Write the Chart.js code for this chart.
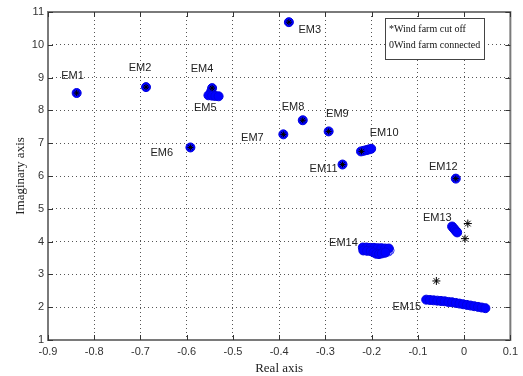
<!DOCTYPE html>
<html lang="en">
<head>
<meta charset="UTF-8">
<title>Eigenvalues - wind farm cut off vs connected</title>
<script src="https://cdn.jsdelivr.net/npm/chart.js"></script>
<style>
    html, body { margin: 0; padding: 0; background: #fff; }
    #wrap { position: relative; width: 523px; height: 376px; }
</style>
</head>
<body>
<div id="wrap"><canvas id="eigChart"></canvas></div>
<script>
// eigenvalues (real part, imaginary part)
const cutOffRe = [-0.838, -0.688, -0.379, -0.545, -0.592, -0.391, -0.349, -0.293, -0.222, -0.263, -0.018, 0.008, 0.002, -0.060];
const cutOffIm = [8.53, 8.71, 10.69, 8.68, 6.87, 7.27, 7.70, 7.36, 6.75, 6.35, 5.92, 4.55, 4.09, 2.80];

const connectedRe = [
    -0.838, -0.688, -0.379, -0.545, -0.592, -0.391, -0.349, -0.293, -0.263, -0.018,   // single modes
    -0.547, -0.549, -0.553, -0.545, -0.538, -0.531,                                   // EM5
    -0.223, -0.217, -0.211, -0.206, -0.201,                                           // EM10
    -0.026, -0.023, -0.020, -0.017, -0.015,                                           // EM13
    -0.219, -0.211, -0.203, -0.195, -0.187, -0.179, -0.171, -0.163,                   // EM14 upper
    -0.218, -0.210, -0.202, -0.196, -0.190, -0.184, -0.178, -0.170,                   // EM14 lower
    -0.082, -0.074, -0.066, -0.058, -0.050, -0.042, -0.034, -0.026, -0.018,           // EM15
    -0.010, -0.002, 0.006, 0.014, 0.022, 0.030, 0.038, 0.046
];
const connectedIm = [
    8.53, 8.71, 10.69, 8.68, 6.87, 7.27, 7.70, 7.36, 6.35, 5.92,
    8.58, 8.50, 8.46, 8.45, 8.44, 8.43,
    6.75, 6.77, 6.79, 6.81, 6.83,
    4.46, 4.41, 4.36, 4.31, 4.28,
    3.82, 3.82, 3.81, 3.81, 3.80, 3.80, 3.79, 3.79,
    3.73, 3.72, 3.71, 3.67, 3.63, 3.62, 3.64, 3.67,
    2.23, 2.22, 2.21, 2.20, 2.19, 2.18, 2.16, 2.15, 2.13,
    2.11, 2.09, 2.07, 2.05, 2.03, 2.01, 1.99, 1.97
];
// a few open circles at the right edge of EM14
const openRe = [-0.172, -0.164, -0.160];
const openIm = [3.64, 3.68, 3.73];

// mode labels and where they sit (data units)
const modeNames = ['EM1', 'EM2', 'EM3', 'EM4', 'EM5', 'EM6', 'EM7', 'EM8', 'EM9', 'EM10', 'EM11', 'EM12', 'EM13', 'EM14', 'EM15'];
const modeLabelRe = [-0.847, -0.701, -0.334, -0.567, -0.560, -0.654, -0.458, -0.370, -0.274, -0.173, -0.304, -0.045, -0.058, -0.261, -0.124];
const modeLabelIm = [9.05, 9.29, 10.45, 9.26, 8.06, 6.69, 7.15, 8.09, 7.88, 7.30, 6.20, 6.29, 4.73, 3.97, 2.01];

const toPts = (re, im) => re.map((x, i) => ({ x: x, y: im[i] }));

const frameColor = '#7a7a7a';

const overlay = {
    id: 'overlay',
    afterDraw(chart) {
        const { ctx, chartArea: a, scales: { x, y } } = chart;
        ctx.save();
        // box around the axes
        ctx.strokeStyle = frameColor;
        ctx.lineWidth = 2;
        ctx.strokeRect(a.left, a.top, a.right - a.left, a.bottom - a.top);
        // inward tick marks, all four sides
        ctx.lineWidth = 1;
        ctx.strokeStyle = '#333';
        ctx.beginPath();
        x.ticks.forEach(t => {
            const px = Math.round(x.getPixelForValue(t.value)) + 0.5;
            ctx.moveTo(px, a.bottom); ctx.lineTo(px, a.bottom - 5);
            ctx.moveTo(px, a.top); ctx.lineTo(px, a.top + 5);
        });
        y.ticks.forEach(t => {
            const py = Math.round(y.getPixelForValue(t.value)) + 0.5;
            ctx.moveTo(a.left, py); ctx.lineTo(a.left + 5, py);
            ctx.moveTo(a.right, py); ctx.lineTo(a.right - 5, py);
        });
        ctx.stroke();

        // mode names
        ctx.fillStyle = '#222';
        ctx.font = '11px "Liberation Sans", Arial, sans-serif';
        ctx.textAlign = 'center';
        ctx.textBaseline = 'middle';
        modeNames.forEach((n, i) => {
            ctx.fillText(n, x.getPixelForValue(modeLabelRe[i]), y.getPixelForValue(modeLabelIm[i]));
        });

        // legend box, top right
        const lx = 385, ly = 18, lw = 99, lh = 41;
        ctx.fillStyle = '#fff';
        ctx.fillRect(lx, ly, lw, lh);
        ctx.strokeStyle = '#444';
        ctx.lineWidth = 1;
        ctx.strokeRect(lx + 0.5, ly + 0.5, lw, lh);
        ctx.fillStyle = '#111';
        ctx.font = '10px "Liberation Serif", "Times New Roman", serif';
        ctx.textAlign = 'left';
        ctx.fillText('*Wind farm cut off', lx + 4, ly + 11);
        ctx.fillText('0Wind farm connected', lx + 4, ly + 27);
        ctx.restore();
    }
};

const ctx = document.getElementById('eigChart').getContext('2d');
const eigChart = new Chart(ctx, {
    type: 'scatter',
    data: {
        datasets: [
            {
                label: 'Wind farm cut off',
                data: toPts(cutOffRe, cutOffIm),
                pointStyle: 'star',
                // the free-standing stars (no circle under them) are drawn a bit larger
                pointRadius: c => c.dataIndex >= 11 ? 4 : 3,
                borderColor: '#000',
                backgroundColor: '#000',
                pointBorderWidth: 1,
                order: 0
            },
            {
                label: 'Wind farm connected',
                data: toPts(connectedRe, connectedIm),
                pointStyle: 'circle',
                pointRadius: 4.5,
                backgroundColor: '#0000ff',
                borderColor: '#0000e0',
                pointBorderWidth: 1,
                order: 1
            },
            {
                label: 'Wind farm connected (open)',
                data: toPts(openRe, openIm),
                pointStyle: 'circle',
                pointRadius: 4,
                backgroundColor: 'rgba(255,255,255,0)',
                borderColor: '#3a3af5',
                pointBorderWidth: 1,
                order: 2
            }
        ]
    },
    options: {
        responsive: true,
        maintainAspectRatio: false,
        animation: false,
        layout: { padding: { left: 0, top: 12, right: 7, bottom: 0 } },
        plugins: {
            legend: { display: false },
            tooltip: { enabled: false }
        },
        scales: {
            x: {
                type: 'linear',
                min: -0.9,
                max: 0.1,
                afterFit: s => { s.height = 36; },
                afterBuildTicks: s => {
                    s.ticks = [-0.9, -0.8, -0.7, -0.6, -0.5, -0.4, -0.3, -0.2, -0.1, 0, 0.1].map(v => ({ value: v }));
                },
                ticks: {
                    padding: 5,
                    color: '#333',
                    font: { family: '"Liberation Sans", Arial, sans-serif', size: 11 },
                    callback: v => Math.abs(v) < 1e-9 ? '0' : (Math.round(v * 10) / 10).toFixed(1)
                },
                grid: { color: '#555', drawTicks: false, lineWidth: 1 },
                border: { display: false, dash: [1, 3] },
                title: {
                    display: true,
                    text: 'Real axis',
                    color: '#222',
                    padding: { top: 0, bottom: 0 },
                    font: { family: '"Liberation Serif", "Times New Roman", serif', size: 13 }
                }
            },
            y: {
                type: 'linear',
                min: 1,
                max: 11,
                afterFit: s => { s.width = 48; },
                ticks: {
                    stepSize: 1,
                    padding: 4,
                    color: '#333',
                    font: { family: '"Liberation Sans", Arial, sans-serif', size: 11 }
                },
                grid: { color: '#555', drawTicks: false, lineWidth: 1 },
                border: { display: false, dash: [1, 3] },
                title: {
                    display: true,
                    text: 'Imaginary axis',
                    color: '#222',
                    padding: { top: 13, bottom: 0 },
                    font: { family: '"Liberation Serif", "Times New Roman", serif', size: 13 }
                }
            }
        }
    },
    plugins: [overlay]
});
</script>
</body>
</html>
